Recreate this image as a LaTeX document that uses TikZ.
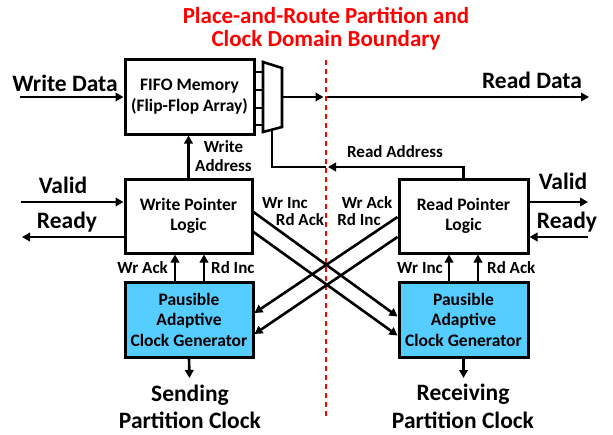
\documentclass[tikz,border=0pt]{standalone}
\usepackage{fontspec}
\setmainfont{Carlito}
\usetikzlibrary{arrows.meta}
\definecolor{pblue}{RGB}{85,205,255}
\definecolor{bred}{RGB}{255,0,0}
\begin{document}
\begin{tikzpicture}[x=1pt,y=-1pt,
  box/.style={draw=black,line width=3pt,inner sep=0pt,align=center,font=\fontsize{17.5}{20.5}\selectfont\bfseries},
  arr/.style={line width=2.6pt,-{Triangle[length=8pt,width=8.5pt]}},
  ln/.style={line width=2.6pt},
  big/.style={font=\fontsize{23.5}{25}\selectfont\bfseries},
  small/.style={font=\fontsize{17}{20}\selectfont\bfseries,inner sep=0pt},
  title/.style={font=\fontsize{23}{25}\selectfont\bfseries,text=bred}
]
\useasboundingbox (0,0) rectangle (613,434);
% title
\node[title] (t1) at (326,15) {Place-and-Route Partition and};
\node[title] (t2) at (326,40) {Clock Domain Boundary};
% boundary
\coordinate (btop) at (326,60);
\coordinate (bbot) at (326,416);
\draw[bred,line width=2pt,dash pattern=on 5pt off 4pt] (btop) -- (bbot);
% boxes
\node[box,minimum width=129pt,minimum height=75pt] (fifo) at (189.5,96.5) {FIFO Memory\\(Flip-Flop Array)};
\node[box,minimum width=127pt,minimum height=74pt] (wp) at (188.5,216) {Write Pointer\\Logic};
\node[box,minimum width=129pt,minimum height=74pt] (rp) at (463.5,216) {Read Pointer\\Logic};
\node[box,fill=pblue,minimum width=128pt,minimum height=75pt] (pl) at (189,319.5) {Pausible\\Adaptive\\Clock Generator};
\node[box,fill=pblue,minimum width=129pt,minimum height=75pt] (pr) at (463.5,319.5) {Pausible\\Adaptive\\Clock Generator};
% mux
\draw[line width=2.6pt,line join=miter] (263,62) -- (282,68) -- (282,127) -- (263,132) -- cycle;
\foreach \yy in {72,90,108,125} \draw[ln] (254,\yy) -- (263,\yy);
\coordinate (muxout) at (282,97);
\coordinate (muxbot) at (272,129.5);
% read data
\coordinate (bRD) at (323.5,97);
\coordinate (bRDr) at (327,97);
\coordinate (rdend) at (589,97);
\draw[arr] (muxout) -- (bRD);
\draw[arr] (bRDr) -- (rdend);
\node[big] (rdlab) at (532,80) {Read Data};
% write data
\coordinate (wdin) at (20,97);
\draw[arr] (wdin) -- (fifo.west |- wdin);
\node[big] (wdlab) at (65,83) {Write Data};
% read address
\coordinate (bRA) at (328,167);
\coordinate (bRAl) at (326,167);
\draw[arr] (rp.north) |- (bRA);
\draw[ln] (bRAl) -| (muxbot);
\node[small] (ralab) at (395,152) {Read Address};
% write address
\draw[arr] (wp.north) -- (wp.north |- fifo.south);
\node[small] (wa1) at (223.5,147) {Write};
\node[small] (wa2) at (223.5,166) {Address};
% valid/ready left
\coordinate (vlin) at (21,202);
\coordinate (rlout) at (22,237);
\draw[arr] (vlin) -- (wp.west |- vlin);
\draw[arr] (wp.west |- rlout) -- (rlout);
\node[big] (vl) at (63,185) {Valid};
\node[big] (rl) at (67,222) {Ready};
% valid/ready right
\coordinate (vrout) at (588,202);
\coordinate (rrin) at (588,237);
\draw[arr] (rp.east |- vrout) -- (vrout);
\draw[arr] (rrin) -- (rp.east |- rrin);
\node[big] (vr) at (563,181) {Valid};
\node[big] (rr) at (567,222) {Ready};
% vertical handshake arrows
\draw[arr] ([xshift=-14pt]pl.north) -- ([xshift=-14pt]pl.north |- wp.south);
\draw[arr] ([xshift=15pt]pl.north) -- ([xshift=15pt]pl.north |- wp.south);
\draw[arr] ([xshift=-14.5pt]pr.north) -- ([xshift=-14.5pt]pr.north |- rp.south);
\draw[arr] ([xshift=14.5pt]pr.north) -- ([xshift=14.5pt]pr.north |- rp.south);
\node[small,anchor=east] (l1) at (168,268) {Wr Ack};
\node[small,anchor=west] (l2) at (211,268) {Rd Inc};
\node[small,anchor=east] (l3) at (443,268) {Wr Inc};
\node[small,anchor=west] (l4) at (487,268) {Rd Ack};
% crossing lines
\draw[arr] ([yshift=4pt]wp.east) -- ([yshift=3pt]pr.west);
\draw[arr] ([yshift=-16pt]wp.east) -- ([yshift=-16pt]pr.west);
\draw[arr] ([yshift=-1pt]rp.west) -- ([yshift=6.5pt]pl.east);
\draw[arr] ([yshift=-21pt]rp.west) -- ([yshift=-14.5pt]pl.east);
\node[small] (c1) at (285,203) {Wr Inc};
\node[small] (c2) at (300,220) {Rd Ack};
\node[small] (c3) at (367,203) {Wr Ack};
\node[small] (c4) at (359,220) {Rd Inc};
% clock outputs
\coordinate (clo) at (189.5,378);
\coordinate (cro) at (463.5,378);
\draw[arr] (pl.south) -- (clo);
\draw[arr] (pr.south) -- (cro);
\node[big] (sc1) at (190,395) {Sending};
\node[big] (sc2) at (190,420) {Partition Clock};
\node[big] (rc1) at (463,394) {Receiving};
\node[big] (rc2) at (463,420) {Partition Clock};
\end{tikzpicture}
\end{document}
